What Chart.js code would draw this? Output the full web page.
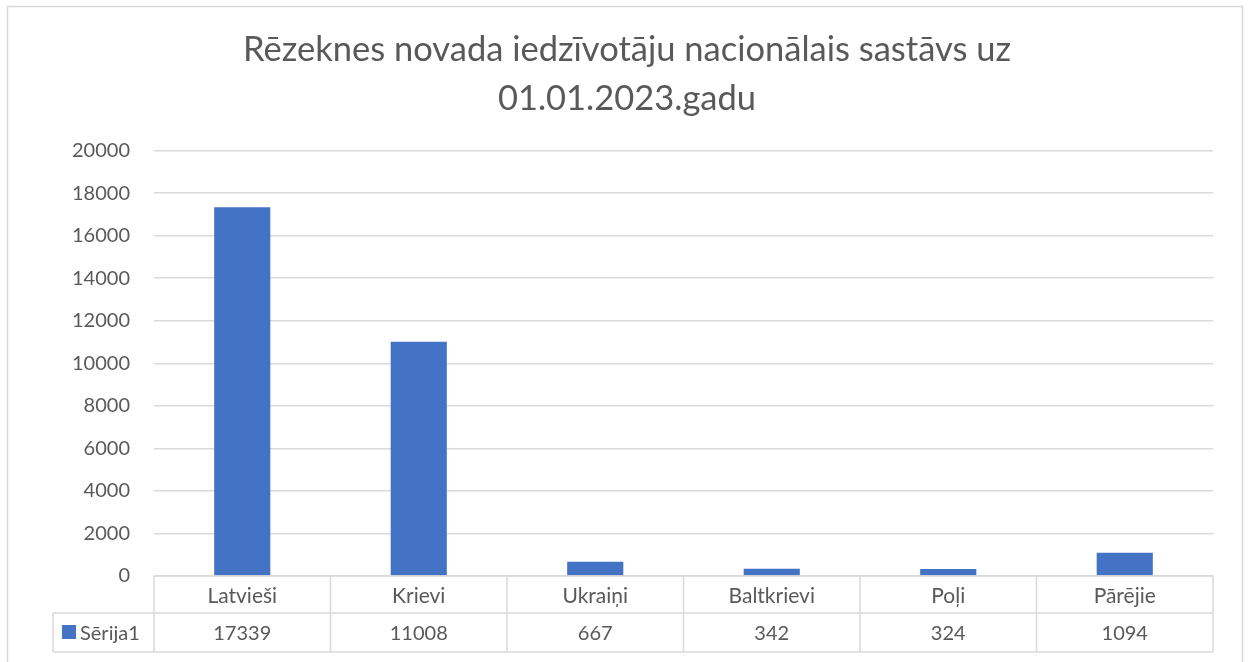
<!DOCTYPE html>
<html>
<head>
<meta charset="utf-8">
<script src="https://cdn.jsdelivr.net/npm/chart.js@4/dist/chart.umd.min.js"></script>
<style>
  html, body { margin: 0; padding: 0; background: #fff; }
  #wrap { width: 1248px; height: 662px; }
</style>
</head>
<body>
<div id="wrap"><canvas id="myChart" width="1248" height="662"></canvas></div>
<script>
var categories = ["Latvieši", "Krievi", "Ukraiņi", "Baltkrievi", "Poļi", "Pārējie"];
var values = [17339, 11008, 667, 342, 324, 1094];
var seriesName = "Sērija1";
var titleLines = ["Rēzeknes novada iedzīvotāju nacionālais sastāvs uz", "01.01.2023.gadu"];

var FONT = "Lato, 'Open Sans', sans-serif";
var TEXT = "#595959";
var LINE = "#d9d9d9";
var BAR = "#4472c4";

// chart frame + data table under the plot
var tablePlugin = {
  id: "tablePlugin",
  beforeDraw: function (chart) {
    var c = chart.ctx;
    c.save();
    c.fillStyle = "#fff";
    c.fillRect(0, 0, chart.width, chart.height);
    c.strokeStyle = LINE;
    c.lineWidth = 1.5;
    c.strokeRect(7.5, 6.5, 1235, 700);
    c.restore();
  },
  afterDraw: function (chart) {
    var c = chart.ctx;
    var x = chart.scales.x;
    var area = chart.chartArea;
    var top = area.bottom;
    var mid = top + 37;
    var bot = top + 76;
    var legLeft = 53;
    var half = (area.right - area.left) / categories.length / 2;

    c.save();
    c.strokeStyle = LINE;
    c.lineWidth = 1.5;
    c.beginPath();
    c.moveTo(area.left, top); c.lineTo(area.right, top);
    c.moveTo(legLeft, mid); c.lineTo(area.right, mid);
    c.moveTo(legLeft, bot); c.lineTo(area.right, bot);
    c.moveTo(legLeft, mid); c.lineTo(legLeft, bot);
    c.moveTo(area.left, top); c.lineTo(area.left, bot);
    for (var i = 0; i < categories.length; i++) {
      var r = x.getPixelForValue(i) + half;
      c.moveTo(r, top); c.lineTo(r, bot);
    }
    c.stroke();

    c.font = "20px " + FONT;
    c.fillStyle = TEXT;
    c.textAlign = "center";
    c.textBaseline = "middle";
    for (var j = 0; j < values.length; j++) {
      c.fillText(String(values[j]), x.getPixelForValue(j), (mid + bot) / 2 + 1);
    }
    c.fillStyle = BAR;
    c.fillRect(62, 625, 14, 14);
    c.fillStyle = TEXT;
    c.textAlign = "left";
    c.fillText(seriesName, 80, (mid + bot) / 2 + 1);
    c.restore();
  }
};

const ctx = document.getElementById("myChart").getContext("2d");
const myChart = new Chart(ctx, {
  type: "bar",
  data: {
    labels: categories,
    datasets: [
      {
        label: seriesName,
        data: values,
        backgroundColor: BAR,
        categoryPercentage: 1,
        barPercentage: 0.318,
      },
    ],
  },
  options: {
    responsive: false,
    animation: false,
    layout: { padding: { left: 41, right: 35, top: 0, bottom: 0 } },
    plugins: {
      legend: { display: false },
      tooltip: { enabled: false },
      title: {
        display: true,
        text: titleLines,
        color: TEXT,
        font: { family: FONT, size: 34.5, weight: "normal", lineHeight: 1.4 },
        padding: { top: 26, bottom: 28 },
      },
    },
    scales: {
      x: {
        offset: true,
        grid: { display: false },
        border: { display: false },
        ticks: {
          color: TEXT,
          font: { family: FONT, size: 21 },
          padding: 0,
          maxRotation: 0,
        },
        afterFit: function (scale) { scale.height = 86; },
      },
      y: {
        min: 0,
        max: 20000,
        border: { display: false },
        grid: { color: LINE, lineWidth: 1.5, drawTicks: false },
        ticks: {
          stepSize: 2000,
          color: TEXT,
          font: { family: FONT, size: 20 },
          padding: 24,
          callback: function (v) { return String(v); },
        },
        afterFit: function (scale) { scale.width = 113; },
      },
    },
  },
  plugins: [tablePlugin],
});
</script>
</body>
</html>
